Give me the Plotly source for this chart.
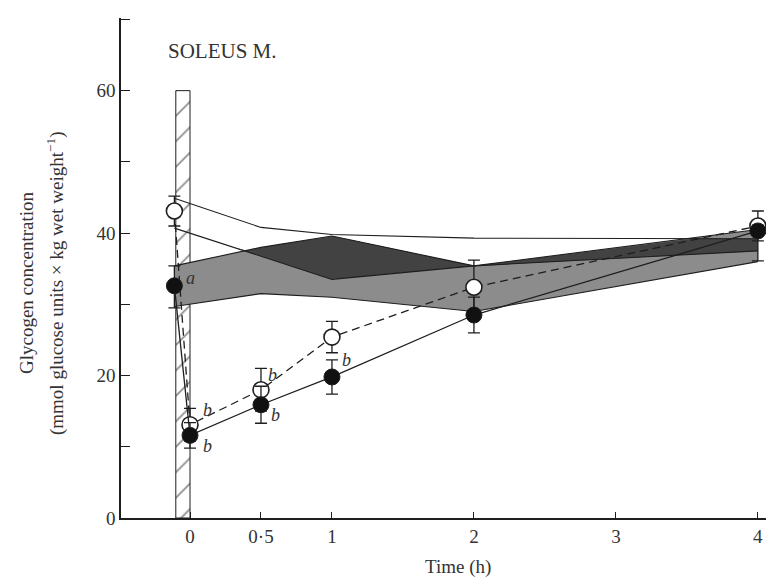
import numpy as np
import plotly.graph_objects as go

# ---------------- data ----------------
tick_times = [0, 0.5, 1, 2, 3, 4]
tick_labels = ["0", "0·5", "1", "2", "3", "4"]
y_major_vals = [0, 20, 40, 60]
y_major_labels = ["0", "20", "40", "60"]
y_minor_vals = [10, 30, 50, 70]

times = [-0.11, 0, 0.5, 1, 2, 4]
open_mean = [43.1, 13.1, 18.0, 25.4, 32.4, 41.0]
open_se = [2.1, 2.3, 3.0, 2.2, 3.8, 2.1]
filled_mean = [32.6, 11.6, 15.9, 19.8, 28.5, 40.3]
filled_se_plus = [2.8, 1.8, 2.6, 2.4, 2.5, 0.8]
filled_se_minus = [3.1, 1.8, 2.6, 2.4, 2.5, 4.2]

band_times = [-0.11, 0.5, 1, 2, 4]
ctrl_open_upper = [44.9, 40.8, 39.8, 39.3, 39.2]
ctrl_open_lower = [40.7, 36.8, 33.5, 35.4, 37.5]
ctrl_filled_upper = [35.4, 38.0, 39.6, 35.4, 40.5]
ctrl_filled_lower = [29.7, 31.5, 31.0, 29.0, 36.0]

exercise_start, exercise_end, exercise_top = -0.1, 0.0, 60

b_label_x = [0.12, 0.12, 0.58, 0.6, 1.1]
b_label_y = [15.2, 10.1, 20.1, 14.5, 22.2]
a_label_x, a_label_y = 0.0, 33.7

SERIF = "Liberation Serif, Times New Roman, serif"
INK = "#1e1e1e"
TXT = "#333333"

fig = go.Figure()

# exercise bar (hatched)
fig.add_trace(go.Bar(
    x=[(exercise_start + exercise_end) / 2], y=[exercise_top],
    width=[exercise_end - exercise_start],
    marker=dict(color="white", line=dict(color=INK, width=1),
                pattern=dict(shape="/", fgcolor=INK, bgcolor="white", size=18, solidity=0.1)),
    showlegend=False, hoverinfo="skip"))

# control band of filled-circle group (light grey)
fig.add_trace(go.Scatter(
    x=band_times + band_times[::-1],
    y=ctrl_filled_upper + ctrl_filled_lower[::-1],
    fill="toself", fillcolor="#8c8c8c", line=dict(width=0),
    mode="lines", showlegend=False, hoverinfo="skip"))

# overlap of the two control bands (dark grey), derived from the data
grid = np.linspace(band_times[0], band_times[-1], 1500)
up = np.minimum(np.interp(grid, band_times, ctrl_open_upper), np.interp(grid, band_times, ctrl_filled_upper))
lo = np.maximum(np.interp(grid, band_times, ctrl_open_lower), np.interp(grid, band_times, ctrl_filled_lower))
up = np.maximum(up, lo)
fig.add_trace(go.Scatter(
    x=np.concatenate([grid, grid[::-1]]), y=np.concatenate([up, lo[::-1]]),
    fill="toself", fillcolor="#424242", line=dict(width=0),
    mode="lines", showlegend=False, hoverinfo="skip"))

# band outlines
for arr in (ctrl_open_upper, ctrl_open_lower, ctrl_filled_upper, ctrl_filled_lower):
    fig.add_trace(go.Scatter(x=band_times, y=arr, mode="lines",
                             line=dict(color=INK, width=1.1),
                             showlegend=False, hoverinfo="skip"))

# open circles (dashed)
fig.add_trace(go.Scatter(
    x=times, y=open_mean, mode="lines+markers",
    line=dict(color=INK, width=1.3, dash="8px,5px"),
    marker=dict(size=16, color="white", line=dict(color=INK, width=1.6)),
    error_y=dict(type="data", array=open_se, color=INK, thickness=1.3, width=6),
    showlegend=False))

# filled circles (solid)
fig.add_trace(go.Scatter(
    x=times, y=filled_mean, mode="lines+markers",
    line=dict(color=INK, width=1.3),
    marker=dict(size=16, color="#111111", line=dict(color=INK, width=1)),
    error_y=dict(type="data", symmetric=False, array=filled_se_plus,
                 arrayminus=filled_se_minus, color=INK, thickness=1.3, width=6),
    showlegend=False))

annotations = []
for bx, by in zip(b_label_x, b_label_y):
    annotations.append(dict(x=bx, y=by, xref="x", yref="y", text="<i>b</i>",
                            showarrow=False, font=dict(family=SERIF, size=18, color=TXT)))
annotations.append(dict(x=a_label_x, y=a_label_y, xref="x", yref="y", text="<i>a</i>",
                        showarrow=False, font=dict(family=SERIF, size=18, color=TXT)))
annotations.append(dict(x=0.068, y=0.934, xref="paper", yref="paper", text="SOLEUS M.",
                        xanchor="left", yanchor="middle", showarrow=False,
                        font=dict(family=SERIF, size=21, color=TXT)))
annotations.append(dict(x=0.51, y=-0.098, xref="paper", yref="paper", text="Time (h)",
                        xanchor="center", yanchor="middle", showarrow=False,
                        font=dict(family=SERIF, size=19, color=TXT)))
annotations.append(dict(x=-0.1437, y=0.47, xref="paper", yref="paper",
                        text="Glycogen concentration", textangle=-90,
                        xanchor="center", yanchor="middle", showarrow=False,
                        font=dict(family=SERIF, size=19, color=TXT)))
annotations.append(dict(x=-0.0998, y=0.47, xref="paper", yref="paper",
                        text="(mmol glucose units × kg wet weight<sup>−1</sup>)", textangle=-90,
                        xanchor="center", yanchor="middle", showarrow=False,
                        font=dict(family=SERIF, size=19, color=TXT)))

fig.update_layout(
    width=774, height=578,
    margin=dict(l=113, r=0, t=10, b=68),
    paper_bgcolor="white", plot_bgcolor="white",
    font=dict(family=SERIF, size=19, color=TXT),
    annotations=annotations,
    showlegend=False,
    xaxis=dict(range=[-0.486, 4.17], tickvals=tick_times, ticktext=tick_labels,
               ticks="inside", ticklen=6, tickcolor=INK, showline=True, linecolor=INK,
               linewidth=1.5, showgrid=False, zeroline=False,
               tickfont=dict(family=SERIF, size=19, color=TXT)),
    yaxis=dict(range=[0, 70.2], tickvals=y_major_vals, ticktext=y_major_labels,
               ticks="inside", ticklen=9, tickcolor=INK, showline=True, linecolor=INK,
               linewidth=1.5, showgrid=False, zeroline=False,
               minor=dict(tickvals=y_minor_vals, ticks="inside", ticklen=9,
                          tickcolor=INK, showgrid=False),
               tickfont=dict(family=SERIF, size=19, color=TXT)),
)

fig.write_html("out.html")
